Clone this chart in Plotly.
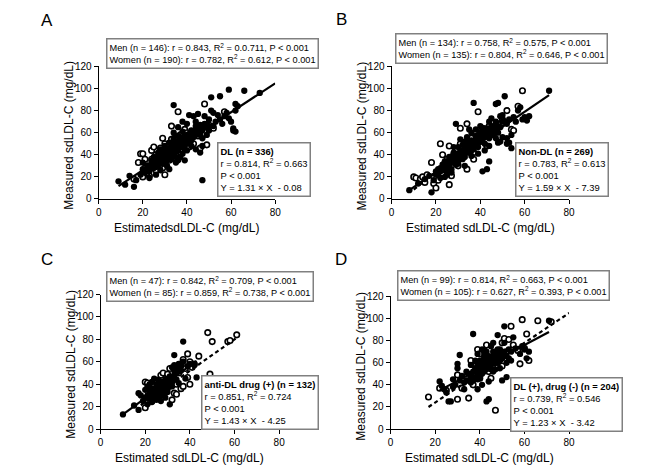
import plotly.graph_objects as go

W, H = 651, 474
FONT = "Liberation Sans, Arial, sans-serif"

# ---- data: (estimated, measured) pairs ----
a_men = [(9, 16), (12, 13), (14, 21), (16, 11), (17, 17), (19, 22), (20, 27), (21, 24), (22, 30), (23, 19),
         (23, 25), (24, 33), (25, 28), (25, 38), (26, 35), (26, 22), (27, 31), (27, 42), (28, 37), (28, 45),
         (28, 26), (29, 33), (29, 40), (30, 36), (30, 48), (30, 32), (31, 43), (31, 30), (32, 39), (32, 51),
         (32, 27), (33, 45), (33, 36), (34, 42), (34, 55), (34, 85), (34, 60), (35, 48), (35, 38), (35, 33),
         (36, 52), (36, 44), (36, 65), (37, 47), (37, 56), (37, 38), (38, 41), (38, 50), (38, 70), (39, 54),
         (39, 35), (40, 58), (40, 44), (40, 68), (41, 51), (41, 76), (42, 62), (42, 48), (43, 56), (43, 75),
         (44, 66), (44, 45), (45, 60), (45, 77), (46, 42), (46, 63), (47, 55), (47, 17), (48, 65), (48, 75),
         (49, 58), (49, 68), (50, 72), (50, 62), (51, 92), (51, 80), (52, 66), (52, 78), (53, 70), (54, 76),
         (55, 93), (55, 72), (56, 68), (57, 75), (58, 78), (59, 99), (59, 73), (60, 70), (61, 64), (62, 61),
         (62, 86), (63, 84), (66, 98), (73, 96), (26, 29), (29, 36), (31, 38), (33, 40), (36, 35), (39, 45),
         (42, 53), (44, 58), (24, 35), (27, 40), (30, 44), (33, 50), (36, 57), (38, 61), (41, 59), (20, 33),
         (35, 43), (47, 48), (44, 70), (61, 62), (62, 80),
         (22, 26), (23, 29), (24, 30), (25, 31), (26, 33), (27, 34), (28, 35), (28, 40), (29, 38), (30, 39),
         (30, 41), (31, 40), (31, 45), (32, 42), (32, 46), (33, 42), (33, 47), (34, 44), (34, 49), (35, 45),
         (35, 51), (36, 47), (36, 49), (37, 49), (37, 53), (38, 47), (38, 53), (39, 50), (39, 57), (40, 50),
         (40, 54), (41, 55), (42, 55), (42, 58), (43, 60), (44, 62), (45, 64), (46, 58), (46, 67), (47, 62),
         (48, 68), (50, 66), (25, 36), (27, 36), (29, 43), (31, 35), (33, 38), (24, 28), (26, 37), (28, 32)]
a_women = [(16, 18), (18, 33), (19, 41), (20, 41), (21, 36), (22, 30), (23, 27), (24, 44), (25, 34), (26, 40),
           (27, 37), (28, 46), (29, 28), (30, 22), (30, 50), (31, 42), (32, 35), (33, 54), (33, 66), (34, 47),
           (35, 40), (36, 79), (37, 58), (38, 45), (39, 63), (40, 52), (41, 47), (42, 56), (43, 50), (44, 60),
           (46, 46), (48, 86), (49, 49), (50, 67), (52, 64), (23, 21), (26, 26), (28, 31), (24, 36), (29, 40),
           (31, 48), (34, 52), (20, 20), (22, 24), (27, 33), (35, 56), (29, 55), (25, 47), (57, 79), (21, 28),
           (26, 32), (32, 44), (37, 50), (40, 60), (45, 57)]

b_men = [(8, 8), (18, 6), (12, 14), (15, 18), (17, 21), (19, 17), (20, 25), (21, 22), (22, 28), (22, 19),
         (23, 31), (24, 26), (25, 34), (25, 22), (26, 30), (26, 38), (27, 33), (27, 27), (28, 36), (28, 42),
         (29, 31), (29, 68), (30, 40), (30, 35), (30, 47), (31, 44), (31, 37), (32, 49), (32, 41), (33, 38),
         (33, 52), (34, 45), (34, 56), (35, 48), (35, 42), (36, 53), (36, 60), (37, 87), (37, 50), (37, 45),
         (38, 57), (38, 63), (39, 52), (39, 47), (40, 60), (40, 55), (40, 66), (41, 25), (41, 58), (42, 50),
         (42, 64), (43, 27), (43, 60), (44, 70), (44, 55), (45, 62), (45, 73), (46, 58), (46, 66), (47, 86),
         (47, 70), (48, 60), (48, 87), (48, 51), (49, 75), (49, 65), (50, 76), (50, 56), (51, 93), (51, 70),
         (52, 55), (52, 68), (53, 51), (53, 72), (54, 58), (55, 74), (56, 70), (57, 80), (58, 83), (59, 72),
         (60, 74), (61, 71), (62, 75), (71, 98), (24, 20), (27, 24), (33, 30), (36, 39), (39, 41), (42, 44),
         (28, 47), (31, 54), (35, 63), (44, 48), (47, 55), (54, 46), (44, 34), (52, 50), (49, 52),
         (20, 22), (21, 27), (22, 25), (23, 26), (24, 30), (25, 29), (26, 34), (27, 36), (28, 33), (28, 38),
         (29, 35), (29, 41), (30, 38), (31, 41), (32, 44), (32, 36), (33, 46), (34, 42), (34, 50), (35, 46),
         (35, 52), (36, 48), (36, 44), (37, 52), (38, 50), (38, 54), (39, 55), (39, 58), (40, 52), (41, 54),
         (41, 62), (42, 56), (42, 60), (43, 58), (43, 64), (44, 60), (45, 66), (46, 64), (47, 63), (48, 66),
         (50, 70), (24, 34), (26, 26), (30, 32)]
b_women = [(10, 20), (11, 19), (13, 18), (14, 20), (15, 15), (16, 22), (18, 33), (19, 14), (20, 10), (21, 24),
           (22, 50), (23, 28), (24, 32), (25, 36), (26, 48), (26, 13), (27, 21), (28, 40), (29, 44), (30, 30),
           (31, 64), (31, 50), (32, 38), (34, 27), (34, 68), (35, 47), (36, 55), (37, 42), (38, 60), (39, 79),
           (40, 52), (41, 64), (42, 57), (44, 66), (46, 62), (50, 72), (54, 63), (55, 62), (57, 84), (59, 98),
           (23, 40), (25, 26), (29, 36), (33, 44), (37, 36), (43, 48), (21, 17), (48, 68), (52, 80)]

c_men = [(10, 13), (15, 21), (17, 17), (17, 32), (18, 30), (19, 25), (20, 28), (20, 35), (21, 22), (21, 38),
         (22, 27), (22, 31), (23, 24), (23, 36), (23, 42), (24, 29), (24, 45), (25, 26), (25, 33), (25, 40),
         (26, 31), (26, 37), (26, 28), (27, 35), (27, 42), (27, 30), (28, 38), (28, 33), (29, 40), (29, 28),
         (30, 36), (30, 44), (31, 22), (31, 42), (32, 55), (32, 38), (33, 66), (33, 57), (33, 48), (34, 55),
         (34, 44), (35, 58), (36, 52), (37, 78), (37, 60), (38, 45), (39, 56), (40, 58), (42, 57), (43, 46),
         (24, 36), (27, 25), (29, 33), (31, 47), (35, 41), (22, 35), (26, 44),
         (21, 30), (22, 33), (23, 29), (23, 32), (24, 31), (24, 27), (25, 30), (25, 37), (26, 34), (26, 40),
         (27, 32), (27, 38), (28, 35), (28, 42), (29, 37), (30, 40), (30, 33), (31, 38), (32, 45), (33, 52),
         (34, 50), (35, 55), (36, 56), (32, 42), (29, 44), (22, 40)]
c_women = [(20, 19), (20, 42), (21, 41), (22, 30), (23, 25), (24, 33), (26, 38), (27, 48), (28, 50), (29, 35),
           (30, 46), (31, 40), (33, 32), (34, 31), (35, 50), (36, 36), (37, 38), (37, 62), (38, 54), (39, 67),
           (39, 46), (40, 60), (41, 55), (42, 58), (44, 65), (48, 86), (49, 49), (50, 78), (57, 78), (58, 79),
           (61, 84), (25, 28), (31, 54), (34, 40), (36, 58), (28, 31), (32, 26), (30, 49), (40, 40), (24, 43)]

d_men = [(22, 43), (23, 39), (24, 36), (25, 33), (26, 25), (27, 25), (28, 45), (29, 40), (30, 55), (30, 59),
         (31, 67), (32, 48), (33, 36), (34, 44), (35, 50), (36, 42), (36, 58), (37, 86), (37, 47), (38, 62),
         (38, 52), (39, 45), (39, 68), (40, 56), (40, 62), (41, 50), (41, 72), (42, 58), (42, 65), (43, 25),
         (43, 54), (43, 70), (44, 62), (44, 27), (45, 58), (45, 75), (46, 66), (46, 52), (47, 70), (47, 60),
         (48, 64), (48, 85), (49, 55), (49, 72), (50, 44), (50, 68), (51, 93), (51, 78), (52, 60), (52, 47),
         (53, 72), (54, 62), (55, 83), (56, 73), (58, 68), (59, 75), (60, 72), (61, 64), (62, 70), (71, 98),
         (39, 36), (44, 43), (34, 52), (46, 78), (41, 40), (42, 61), (45, 65), (47, 54),
         (35, 44), (36, 48), (37, 52), (38, 55), (38, 46), (39, 50), (39, 58), (40, 52), (40, 60), (41, 56),
         (41, 62), (42, 52), (42, 68), (43, 58), (43, 62), (44, 56), (44, 66), (45, 60), (45, 54), (46, 62),
         (46, 70), (47, 66), (48, 60), (48, 72), (49, 62), (49, 68), (50, 64), (51, 70), (52, 66), (53, 64),
         (40, 46), (37, 44), (33, 42), (31, 44), (28, 38), (54, 70)]
d_women = [(17, 29), (22, 37), (25, 35), (30, 27), (30, 49), (32, 37), (34, 47), (35, 28), (36, 62), (37, 40),
           (38, 57), (38, 50), (39, 72), (40, 46), (41, 60), (42, 71), (43, 76), (44, 52), (45, 64), (46, 60),
           (47, 17), (47, 69), (48, 56), (49, 63), (50, 78), (51, 82), (52, 70), (53, 81), (54, 93), (55, 76),
           (57, 71), (58, 59), (59, 99), (60, 73), (61, 86), (62, 62), (66, 98), (72, 97), (45, 46), (40, 68),
           (36, 44), (50, 57)]

# regression lines: (x start, x end, slope, intercept, dash)
a_lines = [(9, 80, 1.31, -0.08, "solid")]
b_lines = [(8, 71, 1.365, -2.9, "solid"), (10, 52, 1.59, -7.39, "dash")]
c_lines = [(10, 43, 1.45, -1.5, "solid"), (18, 61, 1.40, -4.0, "dash")]
d_lines = [(17, 80, 1.35, -3.0, "dash"), (22, 71, 1.08, 11.2, "solid")]

letters = ["A", "B", "C", "D"]
x_titles = ["EstimatedsdLDL-C (mg/dL)", "Estimated sdLDL-C (mg/dL)",
            "Estimated sdLDL-C (mg/dL)", "Estimated sdLDL-C (mg/dL)"]
sex_text = [
    "Men (n = 146): r = 0.843, R<sup>2</sup> = 0.0.711, P < 0.001<br>Women (n = 190): r = 0.782, R<sup>2</sup> = 0.612, P < 0.001",
    "Men (n = 134): r = 0.758, R<sup>2</sup> = 0.575, P < 0.001<br>Women (n = 135): r = 0.804, R<sup>2</sup> = 0.646, P < 0.001",
    "Men (n = 47): r = 0.842, R<sup>2</sup> = 0.709, P < 0.001<br>Women (n = 85): r = 0.859, R<sup>2</sup> = 0.738, P < 0.001",
    "Men (n = 99): r = 0.814, R<sup>2</sup> = 0.663, P < 0.001<br>Women (n = 105): r = 0.627, R<sup>2</sup> = 0.393, P < 0.001",
]
group_text = [
    "<b>DL (n = 336)</b><br>r = 0.814, R<sup>2</sup> = 0.663<br>P < 0.001<br>Y = 1.31 × X  - 0.08",
    "<b>Non-DL (n = 269)</b><br>r = 0.783, R<sup>2</sup> = 0.613<br>P < 0.001<br>Y = 1.59 × X  - 7.39",
    "<b>anti-DL drug (+) (n = 132)</b><br>r = 0.851, R<sup>2</sup> = 0.724<br>P < 0.001<br>Y = 1.43 × X  - 4.25",
    "<b>DL (+), drug (-) (n = 204)</b><br>r = 0.739, R<sup>2</sup> = 0.546<br>P < 0.001<br>Y = 1.23 × X  - 3.42",
]

men_sets = [a_men, b_men, c_men, d_men]
women_sets = [a_women, b_women, c_women, d_women]
line_sets = [a_lines, b_lines, c_lines, d_lines]

# layout in pixels: plot area (left, right, top, bottom)
plot_px = [(97, 276, 62, 198), (394, 574, 62, 198), (99, 280, 296, 434), (393, 574, 298, 434)]
top_box_px = [(104, 33), (398, 28), (104, 272), (400, 271)]
inner_box_px = [(217, 140), (519, 140), (201, 379), (514, 381)]
letter_px = [(45, 15), (343, 14), (45, 260), (343, 260)]


def fx(p):
    return p / W


def fy(p):
    return 1 - p / H


fig = go.Figure()
annotations = []

for i in range(4):
    xa = "x" if i == 0 else f"x{i + 1}"
    ya = "y" if i == 0 else f"y{i + 1}"
    wx = [p[0] for p in women_sets[i]]
    wy = [p[1] for p in women_sets[i]]
    mx = [p[0] for p in men_sets[i]]
    my = [p[1] for p in men_sets[i]]
    fig.add_trace(go.Scatter(
        x=wx, y=wy, mode="markers", xaxis=xa, yaxis=ya,
        marker=dict(size=5.5, color="white", line=dict(width=1.6, color="black")),
    ))
    fig.add_trace(go.Scatter(
        x=mx, y=my, mode="markers", xaxis=xa, yaxis=ya,
        marker=dict(size=6.3, color="black", line=dict(width=0)),
    ))
    for x0, x1, k, b, dash in line_sets[i]:
        fig.add_trace(go.Scatter(
            x=[x0, x1], y=[k * x0 + b, k * x1 + b], mode="lines", xaxis=xa, yaxis=ya,
            line=dict(color="black", width=2.2, dash=dash if dash == "solid" else "4px,3px"),
        ))

    l, r, t, btm = plot_px[i]
    ax = dict(range=[0, 80], dtick=20, domain=[fx(l), fx(r)], anchor=ya,
              showline=True, linecolor="black", linewidth=1, ticks="outside", ticklen=4,
              tickcolor="black", showgrid=False, zeroline=False,
              tickfont=dict(family=FONT, size=10, color="black"))
    ay = dict(range=[0, 120], dtick=20, domain=[fy(btm), fy(t)], anchor=xa,
              showline=True, linecolor="black", linewidth=1, ticks="outside", ticklen=4,
              tickcolor="black", showgrid=False, zeroline=False,
              tickfont=dict(family=FONT, size=10, color="black"))
    fig.update_layout(**{("xaxis" if i == 0 else f"xaxis{i + 1}"): ax,
                         ("yaxis" if i == 0 else f"yaxis{i + 1}"): ay})

    # axis titles
    annotations.append(dict(x=fx((l + r) / 2), y=fy(btm + 30), xref="paper", yref="paper",
                            text=x_titles[i], showarrow=False, xanchor="center", yanchor="middle",
                            font=dict(family=FONT, size=12, color="black")))
    annotations.append(dict(x=fx(l - 30), y=fy((t + btm) / 2 + 3), xref="paper", yref="paper",
                            text="Measured sdLDL-C (mg/dL)", textangle=-90, showarrow=False,
                            xanchor="center", yanchor="middle",
                            font=dict(family=FONT, size=12, color="black")))
    # panel letter
    annotations.append(dict(x=fx(letter_px[i][0]), y=fy(letter_px[i][1]), xref="paper", yref="paper",
                            text=letters[i], showarrow=False, xanchor="center", yanchor="middle",
                            font=dict(family=FONT, size=17, color="black")))
    # stats boxes
    annotations.append(dict(x=fx(top_box_px[i][0]), y=fy(top_box_px[i][1]), xref="paper", yref="paper",
                            text=sex_text[i], showarrow=False, xanchor="left", yanchor="top", align="left",
                            bordercolor="#808080", borderwidth=1.5, borderpad=2, bgcolor="white",
                            font=dict(family=FONT, size=9.2, color="black")))
    annotations.append(dict(x=fx(inner_box_px[i][0]), y=fy(inner_box_px[i][1]), xref="paper", yref="paper",
                            text=group_text[i], showarrow=False, xanchor="left", yanchor="top", align="left",
                            bordercolor="#808080", borderwidth=1.5, borderpad=2, bgcolor="white",
                            font=dict(family=FONT, size=9.4, color="black")))

fig.update_layout(
    width=W, height=H, margin=dict(l=0, r=0, t=0, b=0),
    paper_bgcolor="white", plot_bgcolor="white",
    showlegend=False, annotations=annotations,
)

fig.write_html("out.html", config={"responsive": False, "displayModeBar": False},
               post_script="document.body.style.margin='0';document.body.style.padding='0';"
                           "document.body.style.overflow='hidden';")
